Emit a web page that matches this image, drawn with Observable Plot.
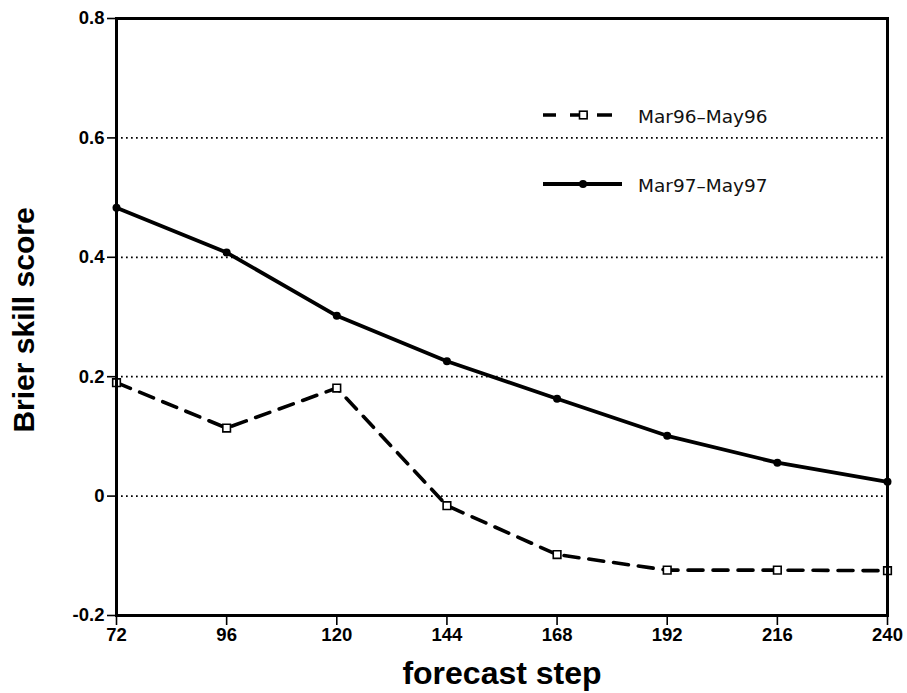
<!DOCTYPE html>
<html><head><meta charset="utf-8">
<script src="https://cdn.jsdelivr.net/npm/d3@7"></script>
<script src="https://cdn.jsdelivr.net/npm/@observablehq/plot@0.6"></script>
<style>
html,body{margin:0;padding:0;background:#fff;}
#chart svg{display:block;}
</style>
</head><body><div id="chart"></div>
<script>
// Data
const steps = [72, 96, 120, 144, 168, 192, 216, 240];
const mar96 = [0.190, 0.114, 0.181, -0.016, -0.098, -0.124, -0.124, -0.125];
const mar97 = [0.483, 0.408, 0.302, 0.226, 0.163, 0.101, 0.056, 0.024];
const seriesNames = ["Mar96–May96", "Mar97–May97"];
const yTicks = [-0.2, 0, 0.2, 0.4, 0.6, 0.8];
const gridValues = [0, 0.2, 0.4, 0.6];
const xLabel = "forecast step";
const yLabel = "Brier skill score";

const d96 = steps.map((s, i) => ({step: s, value: mar96[i]}));
const d97 = steps.map((s, i) => ({step: s, value: mar97[i]}));

const tickFont = {fontSize: 18.5, fontWeight: "bold", fontFamily: "Liberation Sans, Arial, sans-serif"};
const titleFont = {fontWeight: "bold", fontFamily: "Liberation Sans, Arial, sans-serif"};

const plot = Plot.plot({
  width: 907, height: 693,
  marginLeft: 116, marginRight: 20, marginTop: 18, marginBottom: 78,
  style: {background: "#fff", color: "#000", overflow: "visible"},
  x: {domain: [72, 240]},
  y: {domain: [-0.2, 0.8]},
  marks: [
    Plot.ruleY(gridValues, {stroke: "#000", strokeWidth: 1.7, strokeDasharray: "1.7,3.3"}),
    Plot.axisX({ticks: steps, tickSize: 10, tickPadding: 2, tickFormat: d => String(d), label: null, strokeWidth: 1.6, ...tickFont}),
    Plot.axisY({ticks: yTicks, tickSize: 9, tickPadding: 3, tickFormat: d => d === 0 ? "0" : d.toFixed(1), label: null, strokeWidth: 1.6, ...tickFont}),
    Plot.line(d96, {x: "step", y: "value", stroke: "#000", strokeWidth: 3.6, strokeDasharray: "15,10"}),
    Plot.line(d97, {x: "step", y: "value", stroke: "#000", strokeWidth: 3.8}),
    Plot.dot(d96, {x: "step", y: "value", symbol: "square", r: 4.3, fill: "#fff", stroke: "#000", strokeWidth: 1.6}),
    Plot.dot(d97, {x: "step", y: "value", r: 4, fill: "#000"}),
    Plot.frame({stroke: "#000", strokeWidth: 3}),
    Plot.text([xLabel], {text: d => d, frameAnchor: "bottom", textAnchor: "middle", lineAnchor: "middle", dy: 58, fontSize: 32, ...titleFont}),
    Plot.text([yLabel], {text: d => d, frameAnchor: "left", textAnchor: "middle", lineAnchor: "middle", rotate: -90, dx: -92, dy: 3, fontSize: 30, ...titleFont})
  ]
});
document.getElementById("chart").appendChild(plot);

// Legend (inside the plot area, top right)
const svg = d3.select(plot);
const lg = svg.append("g").attr("class", "legend").attr("text-anchor", "start");
const rows = [
  {name: seriesNames[0], y: 115, dashed: true},
  {name: seriesNames[1], y: 184, dashed: false}
];
rows.forEach(r => {
  if (r.dashed) {
    lg.append("line").attr("x1", 543).attr("x2", 612).attr("y1", r.y).attr("y2", r.y)
      .attr("stroke", "#000").attr("stroke-width", 3.6).attr("stroke-dasharray", "13,14,18,9,15");
    lg.append("rect").attr("x", 579.5).attr("y", r.y - 3.8).attr("width", 7.6).attr("height", 7.6)
      .attr("fill", "#fff").attr("stroke", "#000").attr("stroke-width", 1.6);
  } else {
    lg.append("line").attr("x1", 543).attr("x2", 622).attr("y1", r.y).attr("y2", r.y)
      .attr("stroke", "#000").attr("stroke-width", 3.8);
    lg.append("circle").attr("cx", 583).attr("cy", r.y).attr("r", 4).attr("fill", "#000");
  }
  lg.append("text").attr("x", 638).attr("y", r.y + 7.5).attr("text-anchor", "start").text(r.name)
    .attr("font-family", "DejaVu Sans").attr("font-size", 18.5).attr("fill", "#111");
});
</script>
</body></html>
